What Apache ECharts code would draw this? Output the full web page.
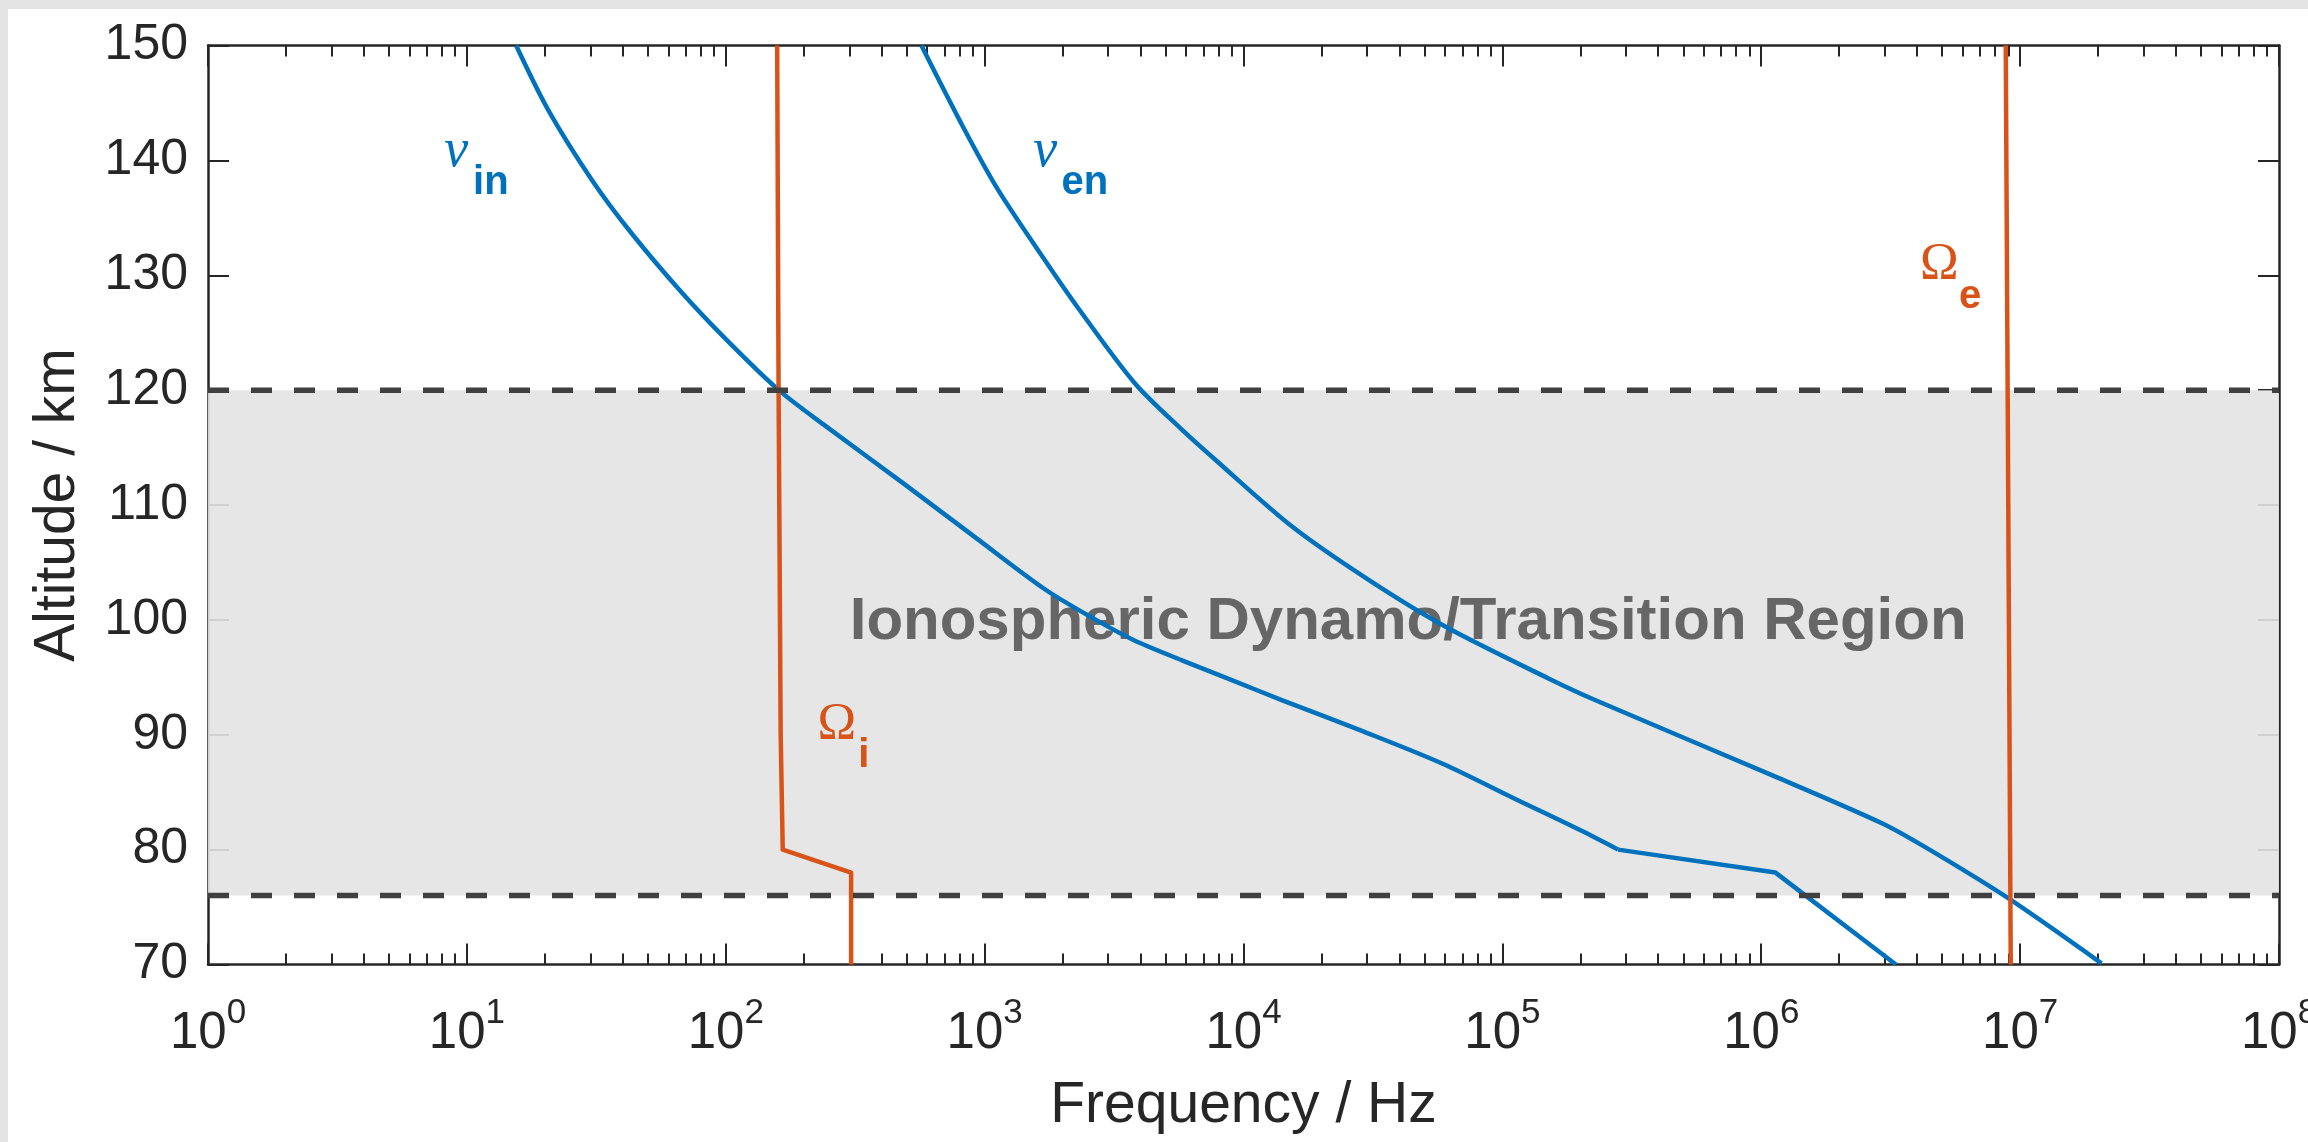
<!DOCTYPE html>
<html><head><meta charset="utf-8">
<script src="https://cdn.jsdelivr.net/npm/echarts@6/dist/echarts.min.js"></script>
<style>
html,body{margin:0;padding:0;background:#fff;overflow:hidden;}
#wrap{position:absolute;left:0;top:0;width:2308px;height:1142px;background:#e4e4e4;}
#chart{position:absolute;left:8px;top:9px;width:2300px;height:1133px;background:#fff;}
</style></head><body>
<div id="wrap"><div id="chart"></div></div>
<script>
// ---- axis ranges & ticks ----
const altRange = [70, 150];
const altTickStep = 10;
const freqRange = [1, 1e8];
const xTickExponents = ['0', '1', '2', '3', '4', '5', '6', '7', '8'];

// ---- curves (frequency in Hz, altitude in km) ----
const nuInAlt = [150, 144.4, 138.3, 133.7, 128.5, 124.4, 120, 116.8, 111.9, 107.25, 102.6, 100, 98.25, 96.5, 94.8, 93, 90.4, 87.5, 84.3, 81.7, 80, 78, 70];
const nuInHz  = [15.5, 20.6, 30.4, 43.1, 67.6, 100.5, 160.3, 245.5, 484, 912, 1726, 2692, 3758, 5754, 8913, 14130, 28180, 58480, 114800, 199500, 280000, 1135000, 3311000];

const nuEnAlt = [150, 143.2, 137.7, 131.9, 127.0, 120.6, 116.6, 113.96, 108.1, 103.5, 99.42, 94.9, 93.0, 86.4, 82.3, 80.3, 75.9, 70.1];
const nuEnHz  = [570, 813, 1109, 1641, 2323, 3802, 5754, 7762, 15450, 30340, 60120, 150700, 229100, 1122000, 2924000, 4236000, 8810000, 20610000];

const omegaIAlt = [150, 120, 90, 80, 78, 70];
const omegaIHz  = [158, 160, 163, 166, 305, 305];

const omegaEAlt = [150, 120, 70];
const omegaEHz  = [8.8e6, 8.95e6, 9.2e6];

// shaded region (km)
const regionAlt = [76, 120];
const regionLabel = 'Ionospheric Dynamo/Transition Region';

// ---- styles ----
const BLUE = '#0072BD', ORANGE = '#D95319', AXIS = '#262626';
const SANS = '"Liberation Sans", Arial, sans-serif';
const SERIF = '"Liberation Serif", "Times New Roman", serif';

// annotation anchors (left/center x in Hz, baseline altitude in km)
const annotations = [
  {text: 'ν', family: SERIF, style: 'italic', weight: 'normal', size: 54, k: 0.3375, color: BLUE, hz: 8.17, alt: 139.17},
  {text: 'in', family: SANS, style: 'normal', weight: 'bold', size: 40, k: 0.3465, color: BLUE, hz: 10.57, alt: 136.82},
  {text: 'ν', family: SERIF, style: 'italic', weight: 'normal', size: 54, k: 0.3375, color: BLUE, hz: 1542, alt: 139.17},
  {text: 'en', family: SANS, style: 'normal', weight: 'bold', size: 40, k: 0.3465, color: BLUE, hz: 1982, alt: 136.82},
  {text: 'Ω', family: SERIF, style: 'normal', weight: 'normal', size: 52, k: 0.3375, color: ORANGE, hz: 4.1e6, alt: 129.33},
  {text: 'e', family: SANS, style: 'normal', weight: 'bold', size: 40, k: 0.3465, color: ORANGE, hz: 5.8e6, alt: 126.9},
  {text: 'Ω', family: SERIF, style: 'normal', weight: 'normal', size: 52, k: 0.3375, color: ORANGE, hz: 226, alt: 89.3},
  {text: 'i', family: SANS, style: 'normal', weight: 'bold', size: 40, k: 0.3465, color: ORANGE, hz: 325, alt: 86.95},
  {text: regionLabel, family: SANS, style: 'normal', weight: 'bold', size: 60, k: 0.3465, color: '#666666', hz: 43250, alt: 97.97, align: 'center', z: 1.5}
];

function zip(xs, ys) { return xs.map((x, i) => [x, ys[i]]); }
const nuInPts = zip(nuInHz, nuInAlt);
const nuInKink = nuInAlt.indexOf(80);

const chart = echarts.init(document.getElementById('chart'), null, {renderer: 'canvas'});

const commonX = {
  type: 'log', logBase: 10, min: freqRange[0], max: freqRange[1], splitNumber: 8,
  axisLine: {show: true, onZero: false, lineStyle: {color: AXIS, width: 2.5}},
  axisTick: {show: true, inside: true, length: 21, lineStyle: {color: AXIS, width: 2}},
  minorTick: {show: true, splitNumber: 9, length: 11, lineStyle: {color: AXIS, width: 2}},
  splitLine: {show: false}, minorSplitLine: {show: false}
};
const commonY = {
  type: 'value', min: altRange[0], max: altRange[1], interval: altTickStep,
  axisLine: {show: true, onZero: false, lineStyle: {color: AXIS, width: 2.5}},
  axisTick: {show: true, inside: true, length: 21, lineStyle: {color: AXIS, width: 2}},
  splitLine: {show: false}
};

function curve(name, data, color, smooth, width) {
  return {type: 'line', name: name, data: data, showSymbol: false, z: 3, silent: true,
          smooth: smooth,
          lineStyle: {color: color, width: width, join: 'round'}};
}

const option = {
  animation: false,
  backgroundColor: '#ffffff',
  grid: {left: 200, top: 36.5, right: 29, bottom: 177.5, containLabel: false, outerBoundsMode: 'none'},
  xAxis: [
    Object.assign({}, commonX, {
      position: 'bottom',
      name: 'Frequency / Hz', nameLocation: 'middle', nameGap: 113, nameMoveOverlap: false,
      nameTextStyle: {fontSize: 57, lineHeight: 57, fontFamily: SANS, color: AXIS},
      axisLabel: {
        show: true, margin: 31, showMinLabel: true, showMaxLabel: true, hideOverlap: false,
        formatter: function (v) {
          const e = Math.round(Math.log10(v));
          return '{b|10}{s|' + xTickExponents[e] + '}';
        },
        rich: {
          b: {fontSize: 51, lineHeight: 64, fontFamily: SANS, color: AXIS, verticalAlign: 'bottom'},
          s: {fontSize: 35, lineHeight: 35, fontFamily: SANS, color: AXIS, verticalAlign: 'top'}
        }
      }
    }),
    Object.assign({}, commonX, {position: 'top', axisLabel: {show: false}})
  ],
  yAxis: [
    Object.assign({}, commonY, {
      position: 'left',
      name: 'Altitude / km', nameLocation: 'middle', nameGap: 121, nameRotate: 90, nameMoveOverlap: false,
      nameTextStyle: {fontSize: 57, lineHeight: 57, fontFamily: SANS, color: AXIS},
      axisLabel: {show: true, fontSize: 50, fontFamily: SANS, color: AXIS, margin: 20, showMinLabel: true, showMaxLabel: true}
    }),
    Object.assign({}, commonY, {position: 'right', axisLabel: {show: false}})
  ],
  series: [
    {
      type: 'custom', name: 'region', z: 1, silent: true,
      data: [regionAlt],
      encode: {y: [0, 1]},
      renderItem: function (params, api) {
        const cs = params.coordSys;
        const yTop = api.coord([freqRange[0], api.value(1)])[1];
        const yBot = api.coord([freqRange[0], api.value(0)])[1];
        return {type: 'rect', shape: {x: cs.x, y: yTop, width: cs.width, height: yBot - yTop},
                style: {fill: 'rgba(227,227,227,0.9)'}};
      }
    },
    curve('nu_in', nuInPts.slice(0, nuInKink + 1), BLUE, 0.3, 4.5),
    curve('nu_in_low', nuInPts.slice(nuInKink), BLUE, false, 4.5),
    curve('nu_en', zip(nuEnHz, nuEnAlt), BLUE, 0.3, 4.5),
    curve('Omega_i', zip(omegaIHz, omegaIAlt), ORANGE, false, 4.5),
    curve('Omega_e', zip(omegaEHz, omegaEAlt), ORANGE, false, 4.5),
    {type: 'line', name: 'upper', data: [[freqRange[0], regionAlt[1]], [freqRange[1], regionAlt[1]]], showSymbol: false, z: 4, silent: true,
     lineStyle: {color: '#404040', width: 5.5, type: [21, 22], cap: 'butt'}},
    {type: 'line', name: 'lower', data: [[freqRange[0], regionAlt[0]], [freqRange[1], regionAlt[0]]], showSymbol: false, z: 4, silent: true,
     lineStyle: {color: '#404040', width: 5.5, type: [21, 22], cap: 'butt'}}
  ]
};
chart.setOption(option);

const graphics = annotations.map(a => {
  const p = chart.convertToPixel({gridIndex: 0}, [a.hz, a.alt]);
  return {
    type: 'text', z: a.z != null ? a.z : 5, silent: true,
    x: p[0], y: p[1] - a.k * a.size,
    style: {
      text: a.text, fill: a.color, align: a.align || 'left', verticalAlign: 'middle',
      font: a.style + ' ' + a.weight + ' ' + a.size + 'px ' + a.family
    }
  };
});
chart.setOption({graphic: graphics});
</script>
</body></html>
